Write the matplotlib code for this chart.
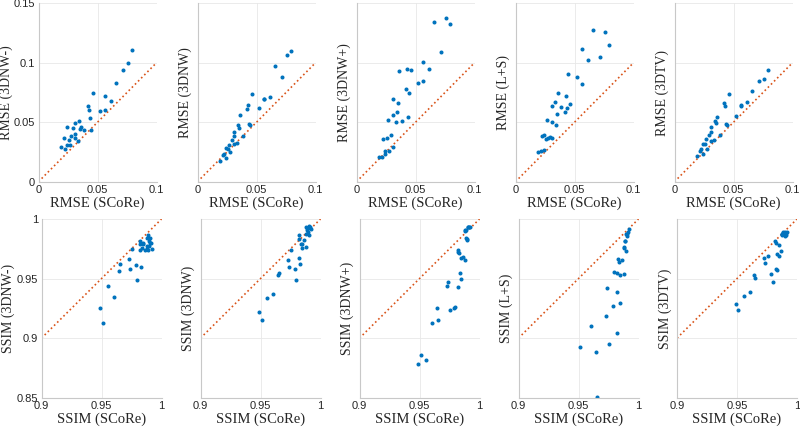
import matplotlib
matplotlib.use('Agg')
import matplotlib.pyplot as plt
import numpy as np

# SCoRe values shared by every panel (x axis)
rmse_score = [0.0194, 0.022, 0.0228, 0.024, 0.0242, 0.0262, 0.0265, 0.0276, 0.0293, 0.0307,
              0.031, 0.0313, 0.0335, 0.0346, 0.0352, 0.0358, 0.0386, 0.042, 0.0428, 0.0439,
              0.0442, 0.0465, 0.0524, 0.0563, 0.0566, 0.0611, 0.0654, 0.0713, 0.0761, 0.0794]
ssim_score = [0.949, 0.9511, 0.9558, 0.9607, 0.9643, 0.9651, 0.9725, 0.9734, 0.9755, 0.9786,
              0.9797, 0.9819, 0.9824, 0.9824, 0.983, 0.9835, 0.9846, 0.9849, 0.9865, 0.9876,
              0.9876, 0.9879, 0.9885, 0.9887, 0.9896, 0.9898, 0.9904, 0.9907, 0.9912, 0.992]

methods = ['3DNW-', '3DNW', '3DNW+', 'L+S', '3DTV']

rmse_3dnw_minus = [0.0294, 0.0364, 0.0272, 0.0305, 0.0462, 0.035, 0.0305, 0.0384, 0.0448, 0.0367,
                   0.0493, 0.04, 0.0345, 0.0513, 0.044, 0.0459, 0.0431, 0.0636, 0.0605, 0.0535,
                   0.0437, 0.0742, 0.0594, 0.0599, 0.0723, 0.0678, 0.0826, 0.0936, 0.0994, 0.1106]
rmse_3dnw = [0.0171, 0.0224, 0.023, 0.0196, 0.0286, 0.0275, 0.0311, 0.0249, 0.035, 0.0317,
             0.0387, 0.042, 0.0328, 0.0473, 0.0454, 0.0557, 0.0387, 0.061, 0.0647, 0.0487,
             0.0473, 0.0737, 0.0616, 0.0695, 0.0695, 0.0711, 0.0969, 0.0882, 0.1062, 0.1098]
rmse_3dnw_plus = [0.021, 0.021, 0.0361, 0.0232, 0.026, 0.037, 0.0521, 0.026, 0.0395, 0.0291,
                  0.0692, 0.056, 0.0501, 0.0588, 0.0661, 0.093, 0.0513, 0.0776, 0.0947, 0.0543,
                  0.0742, 0.0936, 0.0826, 0.0846, 0.1008, 0.0944, 0.1345, 0.1087, 0.1375, 0.1328]
rmse_ls = [0.0252, 0.026, 0.0384, 0.0389, 0.0269, 0.0361, 0.0518, 0.0367, 0.0373, 0.0367,
           0.0636, 0.0501, 0.0672, 0.0473, 0.0571, 0.0745, 0.0627, 0.0585, 0.072, 0.0622,
           0.0908, 0.065, 0.0877, 0.1118, 0.0824, 0.1022, 0.1275, 0.1045, 0.1255, 0.1146]
rmse_3dtv = [0.0218, 0.0255, 0.0275, 0.0232, 0.0317, 0.0317, 0.0361, 0.0277, 0.0395, 0.0342,
             0.0462, 0.0417, 0.035, 0.0513, 0.0496, 0.0546, 0.0392, 0.0664, 0.0636, 0.0485,
             0.0476, 0.0739, 0.0549, 0.064, 0.0644, 0.0672, 0.0762, 0.0846, 0.086, 0.0938]

ssim_3dnw_minus = [0.9257, 0.9131, 0.9441, 0.9344, 0.9561, 0.9623, 0.9662, 0.9578, 0.9751, 0.9612,
                   0.9486, 0.974, 0.9818, 0.9788, 0.96, 0.976, 0.9802, 0.9788, 0.974, 0.9774,
                   0.9751, 0.9841, 0.974, 0.9863, 0.9816, 0.9774, 0.9841, 0.9796, 0.9796, 0.9746]
ssim_3dnw = [0.9218, 0.9154, 0.9335, 0.9372, 0.9534, 0.9547, 0.9659, 0.9598, 0.9743, 0.9581,
             0.9486, 0.9676, 0.9835, 0.9866, 0.962, 0.9793, 0.9757, 0.9788, 0.9824, 0.9933,
             0.9874, 0.9768, 0.9927, 0.9908, 0.9922, 0.9894, 0.9944, 0.9866, 0.993, 0.9913]
ssim_3dnw_plus = [0.8782, 0.8855, 0.8816, 0.9123, 0.9251, 0.9156, 0.9439, 0.9475, 0.9235, 0.9249,
                  0.9263, 0.9737, 0.943, 0.9723, 0.9715, 0.9547, 0.9494, 0.9676, 0.9682, 0.9656,
                  0.9902, 0.9908, 0.9908, 0.984, 0.983, 0.9827, 0.9936, 0.9936, 0.9936, 0.993]
ssim_ls = [0.84, 0.8927, 0.845, 0.9098, 0.8885, 0.8503, 0.9182, 0.9419, 0.895, 0.9268,
           0.9556, 0.9039, 0.9547, 0.9385, 0.9662, 0.9637, 0.9534, 0.9293, 0.9654, 0.9536,
           0.9763, 0.9754, 0.9818, 0.9815, 0.9735, 0.9872, 0.986, 0.9877, 0.9891, 0.9919]
ssim_3dtv = [0.929, 0.9237, 0.9352, 0.9391, 0.9534, 0.9506, 0.9676, 0.9628, 0.9687, 0.9536,
             0.9469, 0.9813, 0.9581, 0.9796, 0.957, 0.9704, 0.9687, 0.9785, 0.9735, 0.9866,
             0.9877, 0.987, 0.9882, 0.9888, 0.9873, 0.9855, 0.9895, 0.9886, 0.9862, 0.9893]

rmse_sets = [rmse_3dnw_minus, rmse_3dnw, rmse_3dnw_plus, rmse_ls, rmse_3dtv]
ssim_sets = [ssim_3dnw_minus, ssim_3dnw, ssim_3dnw_plus, ssim_ls, ssim_3dtv]

W, H = 800, 429
fig = plt.figure(figsize=(8, 4.29), dpi=100)

xlabel_font = dict(family='Liberation Serif', size=10.5, color='#262626')
ylabel_font = dict(family='Liberation Serif', size=10, color='#262626')
tick_col = '#262626'
dot_col = '#0072BD'
line_col = '#D95319'


def style_axes(ax, first):
    for s in ['top', 'right']:
        ax.spines[s].set_visible(False)
    for s in ['left', 'bottom']:
        ax.spines[s].set_color('#c8c8c8')
        ax.spines[s].set_linewidth(0.8)
    ax.grid(True, color='#e8e8e8', lw=0.6)
    ax.set_axisbelow(True)
    ax.tick_params(length=0, labelsize=8, labelcolor=tick_col, pad=2.5)
    for lab in ax.get_xticklabels() + ax.get_yticklabels():
        lab.set_family('Liberation Sans')
    if not first:
        ax.set_yticklabels([])


def panel(left_px, top_px, width_px, height_px):
    return fig.add_axes([left_px / W, (H - top_px - height_px) / H, width_px / W, height_px / H])


top_lefts = [38.5, 197.5, 356.5, 515.5, 674.5]
bot_lefts = [41.5, 200.5, 359.5, 518.5, 677]

for i, m in enumerate(methods):
    ax = panel(top_lefts[i], 3.3, 118, 178.4)
    ax.plot([0, 0.1], [0, 0.1], ':', color=line_col, lw=1.2)
    ax.plot(rmse_score, rmse_sets[i], '.', color=dot_col, ms=3.8)
    ax.set_xlim(0, 0.1)
    ax.set_ylim(0, 0.15)
    ax.set_xticks([0, 0.05, 0.1])
    ax.set_xticklabels(['0', '0.05', '0.1'])
    ax.set_yticks([0, 0.05, 0.1, 0.15])
    ax.set_yticklabels(['0', '0.05', '0.1', '0.15'])
    style_axes(ax, i == 0)
    ax.set_xlabel('RMSE (SCoRe)', labelpad=1, **xlabel_font)
    ax.set_ylabel('RMSE (%s)' % m, **ylabel_font)
    ax.yaxis.set_label_coords((13 - top_lefts[i]) / 118 if i == 0 else -0.045, 0.5)

    ax = panel(bot_lefts[i], 219, 120, 178.7)
    ax.plot([0.9, 1.0], [0.9, 1.0], ':', color=line_col, lw=1.2)
    ax.plot(ssim_score, ssim_sets[i], '.', color=dot_col, ms=3.8)
    ax.set_xlim(0.9, 1.0)
    ax.set_ylim(0.85, 1.0)
    ax.set_xticks([0.9, 0.95, 1.0])
    ax.set_xticklabels(['0.9', '0.95', '1'])
    ax.set_yticks([0.85, 0.9, 0.95, 1.0])
    ax.set_yticklabels(['0.85', '0.9', '0.95', '1'])
    style_axes(ax, i == 0)
    ax.set_xlabel('SSIM (SCoRe)', labelpad=1, **xlabel_font)
    ax.set_ylabel('SSIM (%s)' % m, **ylabel_font)
    ax.yaxis.set_label_coords((15 - bot_lefts[i]) / 120 if i == 0 else -0.045, 0.5)

fig.savefig('out.png', dpi=100)
